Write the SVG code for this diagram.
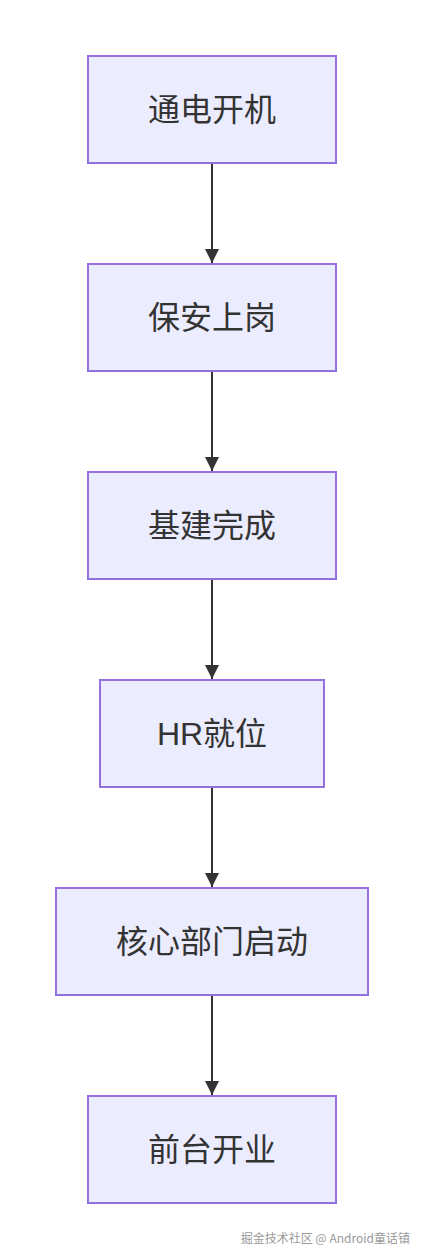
<svg xmlns="http://www.w3.org/2000/svg" width="424" height="1260" viewBox="0 0 424 1260">
<defs>
<style>
.node rect{fill:#ECECFF;stroke:#9370DB;stroke-width:2}
.node text{font-family:"Liberation Sans","Noto Sans CJK SC",sans-serif;font-size:32px;fill:#333;text-anchor:middle;dominant-baseline:central}
.edge{stroke:#333;stroke-width:2;fill:none;marker-end:url(#arrow)}
.wm{font-family:"Noto Sans CJK SC",sans-serif;font-size:12px;fill:#999;text-anchor:end}
</style>
<marker id="arrow" viewBox="0 0 10 10" refX="10" refY="5" markerUnits="userSpaceOnUse" markerWidth="16" markerHeight="14" orient="auto">
<path d="M0,0 L10,5 L0,10 z" fill="#333"/>
</marker>
</defs>
<rect width="424" height="1260" fill="#fff"/>
<g id="edges">
<path class="edge" d="M212,164 L212,263"/>
<path class="edge" d="M212,372 L212,471"/>
<path class="edge" d="M212,580 L212,679"/>
<path class="edge" d="M212,788 L212,887"/>
<path class="edge" d="M212,996 L212,1095"/>
</g>
<g id="n1" class="node"><rect x="88" y="56" width="248" height="107"/><text x="212" y="110">通电开机</text></g>
<g id="n2" class="node"><rect x="88" y="264" width="248" height="107"/><text x="212" y="318">保安上岗</text></g>
<g id="n3" class="node"><rect x="88" y="472" width="248" height="107"/><text x="212" y="526">基建完成</text></g>
<g id="n4" class="node"><rect x="100" y="680" width="224" height="107"/><text x="212" y="734">HR就位</text></g>
<g id="n5" class="node"><rect x="56" y="888" width="312" height="107"/><text x="212" y="942">核心部门启动</text></g>
<g id="n6" class="node"><rect x="88" y="1096" width="248" height="107"/><text x="212" y="1150">前台开业</text></g>
<text class="wm" x="410" y="1243">掘金技术社区 @ Android童话镇</text>
</svg>
